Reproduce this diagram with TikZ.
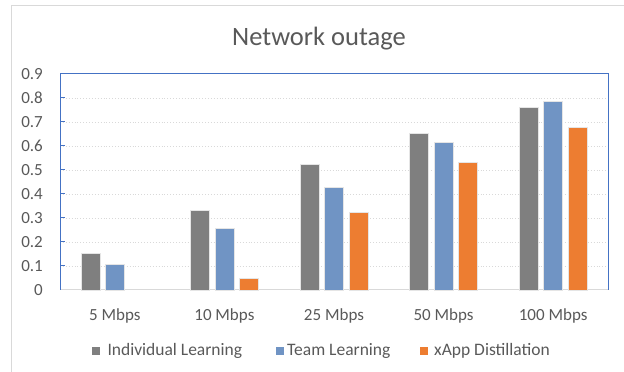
\documentclass[tikz,border=0pt]{standalone}
\usepackage{fontspec}
\setmainfont{Carlito}
\definecolor{txtgray}{HTML}{595959}
\definecolor{lightline}{HTML}{D9D9D9}
\definecolor{framebl}{HTML}{4472C4}
\definecolor{indgray}{HTML}{7F7F7F}
\definecolor{teamblue}{HTML}{7094C4}
\definecolor{xapporange}{HTML}{ED7D31}
\tikzset{
  bar/.style={draw=white!80!gray, line width=0.6pt},
  ticklabel/.style={text=txtgray, font=\fontsize{17}{17}\selectfont, inner sep=0pt},
  legendbox/.style={minimum size=8pt, inner sep=0pt, anchor=south west},
}
\begin{document}
\begin{tikzpicture}[x=1pt,y=1pt]
            \useasboundingbox (0,0) rectangle (624,372);
            \draw[lightline, line width=1pt] (11,0) -- (11,366) -- (624,366);
            \node[ticklabel, font=\fontsize{26.5}{26.5}\selectfont, anchor=base] (title) at (319,326.3) {Network outage};
            % grid and axes
            \foreach \v in {1,...,8}
                \draw[lightline, dotted, line width=0.9pt] (60,82+24*\v) -- (608,82+24*\v);
            \draw[lightline, line width=1pt] (60,82) -- (608,82);
            \draw[framebl, line width=1pt] (60,82) -- (60,298) -- (608,298) -- (608,82);
            \foreach \v in {1,...,8}
                \draw[framebl, line width=1pt] (60,82+24*\v) -- (65,82+24*\v);
            \foreach \v/\lab in {0/0,1/0.1,2/0.2,3/0.3,4/0.4,5/0.5,6/0.6,7/0.7,8/0.8,9/0.9}
                \node[ticklabel, anchor=east] (y\v) at (43,82+24*\v) {\lab};
            % bars
            \foreach \v [count=\i from 0] in {0.153,0.33,0.522,0.654,0.76}
                \draw[bar, fill=indgray] ({60+109.6*(\i+0.5)-33.9},82) rectangle ++(19,240*\v);
            \foreach \v [count=\i from 0] in {0.107,0.257,0.428,0.615,0.786}
                \draw[bar, fill=teamblue] ({60+109.6*(\i+0.5)-9.5},82) rectangle ++(19,240*\v);
            \foreach \v [count=\i from 1] in {0.05,0.322,0.53,0.678}
                \draw[bar, fill=xapporange] ({60+109.6*(\i+0.5)+14.9},82) rectangle ++(19,240*\v);
            \foreach \lab [count=\i from 0] in {5 Mbps,10 Mbps,25 Mbps,50 Mbps,100 Mbps}
                \node[ticklabel, anchor=base] (cat\i) at ({60+109.6*(\i+0.5)},51.6) {\lab};
            % legend
            \node[legendbox, fill=indgray] (keyind) at (91.7,16.3) {};
            \node[ticklabel, font=\fontsize{17.5}{17.5}\selectfont, anchor=base west] (labind) at (107.3,16.3) {Individual Learning};
            \node[legendbox, fill=teamblue] (keyteam) at (276,16.3) {};
            \node[ticklabel, font=\fontsize{17.5}{17.5}\selectfont, anchor=base west] (labteam) at (287,16.3) {Team Learning};
            \node[legendbox, fill=xapporange] (keyxapp) at (420,16.3) {};
            \node[ticklabel, font=\fontsize{17.5}{17.5}\selectfont, anchor=base west] (labxapp) at (434,16.3) {xApp Distillation};
        \end{tikzpicture}
\end{document}
